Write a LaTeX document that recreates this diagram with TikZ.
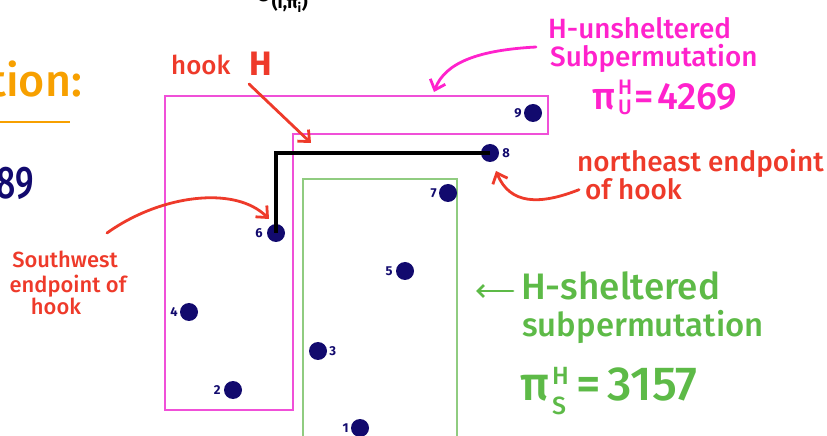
\documentclass[tikz,border=0pt]{standalone}
\usepackage{fontspec}
\IfFontExistsTF{Fira Sans Medium}{\setmainfont{Fira Sans Medium}[BoldFont=Fira Sans Bold]}{\setmainfont{Fira Sans}}
\usetikzlibrary{arrows.meta,positioning}
\definecolor{navy}{HTML}{120A6E}
\definecolor{hred}{HTML}{EE3A2A}
\definecolor{hpink}{HTML}{FF22CC}
\definecolor{boxpink}{HTML}{F050D8}
\definecolor{hgreen}{HTML}{5DBA47}
\definecolor{boxgreen}{HTML}{90CC80}
\definecolor{horange}{HTML}{F7A000}
\newcommand{\fsz}[1]{\fontsize{#1}{#1}\selectfont}
% stacked super/subscript: #1 size, #2 sup, #3 sup raise, #4 sub, #5 sub drop
\newcommand{\stk}[5]{{\fsz{#1}\rlap{\raisebox{#3}{#2}}\raisebox{-#5}{#4}}}
\tikzset{
  dot/.style={circle, fill=navy, minimum size=18bp, inner sep=0pt},
  lbl/.style={text=navy, font=\bfseries\fsz{13}, inner sep=1bp},
  redtxt/.style={text=hred, inner sep=0pt, anchor=base west, font=\fsz{26}},
  pinktxt/.style={text=hpink, inner sep=0pt, anchor=base west, font=\fsz{28}},
  greentxt/.style={text=hgreen, inner sep=0pt, anchor=base west, font=\fsz{34}},
  handarrow/.style={line width=2.8bp, line cap=round, -{Straight Barb[length=9bp,width=16bp,line width=2.8bp]}},
  pinkbox/.style={draw=boxpink, line width=1.1bp},
  greenbox/.style={draw=boxgreen, line width=1.1bp},
  hookline/.style={draw=black, line width=3.2bp}
}
\begin{document}
\begin{tikzpicture}[x=1bp,y=-1bp]
\useasboundingbox (0,0) rectangle (827,436);
\clip (0,0) rectangle (827,436);
% cut-off fragments
\node[anchor=south west, inner sep=0, font=\bfseries\fsz{26}] (sigma) at (256,13) {σ\textsubscript{(i,π\textsubscript{i})}};
\node[anchor=base east, inner sep=0, text=horange, font=\fsz{45}] (tion) at (82,97) {tation:};
\draw[horange, line width=2.5bp] (-5,122) -- (70,122);
\node[anchor=base east, inner sep=0, text=navy, font=\fsz{34}] (eightnine) at (34,199) {\scalebox{1}[1.35]{6789}};
% boxes
\draw[pinkbox] (165,96) -- (548,96) -- (548,134) -- (293,134) -- (293,410) -- (165,410) -- cycle;
\draw[greenbox] (303,179) rectangle (457,445);
% points
\node[dot] (p1) at (360,428) {};
\node[dot] (p2) at (233,390) {};
\node[dot] (p3) at (318,351) {};
\node[dot] (p4) at (189,312) {};
\node[dot] (p5) at (405,271) {};
\node[dot] (p6) at (276,233) {};
\node[dot] (p7) at (448,193) {};
\node[dot] (p8) at (490,153) {};
\node[dot] (p9) at (533,113) {};
\node[lbl, left=1bp of p1] {1};
\node[lbl, left=2bp of p2] {2};
\node[lbl, right=1bp of p3] {3};
\node[lbl, left=1bp of p4] {4};
\node[lbl, left=2bp of p5] {5};
\node[lbl, left=3bp of p6] {6};
\node[lbl, left=1bp of p7] {7};
\node[lbl, right=2bp of p8] {8};
\node[lbl, left=1bp of p9] {9};
% hook
\draw[hookline] (p6.center) |- (p8.center);
% hook H label
\node[redtxt] (hook) at (171,75) {hook};
\node[redtxt, font=\bfseries\fsz{34}] (H) at (249,76) {H};
\coordinate (hookcorner) at (311,143);
\draw[hred, handarrow] (249,84) -- (hookcorner);
% unsheltered
\node[pinktxt] (unsh1) at (548,39) {H-unsheltered};
\node[pinktxt] (unsh2) at (550,67) {Subpermutation};
\node[pinktxt, font=\fsz{38}] (unsh3) at (592,110) {π\kern3bp\stk{21}{H}{15bp}{U}{5bp}\kern3bp=\kern3bp4269};
\coordinate (unshend) at (434,92);
\draw[hpink, handarrow] (unsh2.west |- 0,47) ++(-14,0) .. controls (480,50) and (445,62) .. (unshend);
% northeast
\node[redtxt, font=\fsz{28}] (ne1) at (577,172) {northeast endpoint};
\node[redtxt, font=\fsz{28}] (ne2) at (585,200) {of hook};
\coordinate (neend) at (496,171);
\draw[hred, handarrow] (ne2.west) ++(-6,0) .. controls (540,205) and (510,205) .. (neend);
% southwest
\node[redtxt, anchor=base, font=\fsz{22}] (sw1) at (65,268) {Southwest};
\node[redtxt, anchor=base, font=\fsz{22}] (sw2) at (68,293) {endpoint of};
\node[redtxt, anchor=base, font=\fsz{22}] (sw3) at (56,315) {hook};
\coordinate (swend) at (269,219);
\draw[hred, handarrow] (107,233) .. controls (160,195) and (235,185) .. (swend);
% sheltered
\node[greentxt, font=\fsz{37}] (sh1) at (521,300) {H-sheltered};
\node[greentxt, font=\fsz{33}] (sh2) at (522,337) {subpermutation};
\node[greentxt, font=\fsz{48}] (sh3) at (520,400) {π\kern3bp\stk{25}{H}{16bp}{S}{14bp}\kern10bp=\kern7bp3157};
\coordinate (shleft) at (476,291);
\draw[hgreen, line width=2.8bp, line cap=round, -{Straight Barb[length=6bp,width=12bp,line width=2.8bp]}] (sh1.west |- 0,291) ++(-8,0) -- (shleft);
\end{tikzpicture}
\end{document}
